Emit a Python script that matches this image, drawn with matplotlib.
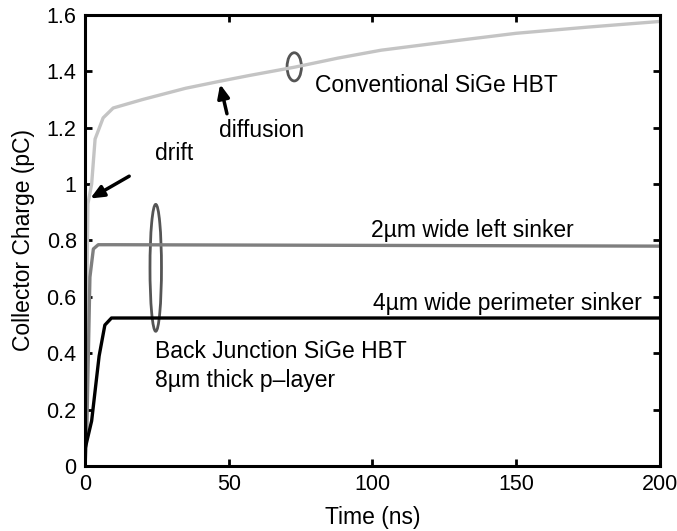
""" Collector charge vs time for conventional and back-junction SiGe HBT """

import numpy as np
import matplotlib.pyplot as plt
from matplotlib.patches import Ellipse

plt.rcParams['font.family'] = ['Liberation Sans', 'DejaVu Sans']

# Conventional SiGe HBT (light gray)
t_conv = [0, 0.5, 1, 2.3, 3.5, 6.3, 9.8, 20, 35, 47, 57, 73, 88, 103, 130, 150, 175, 200]
q_conv = [0, 0.5, 0.93, 1.0, 1.16, 1.235, 1.27, 1.30, 1.34, 1.365, 1.385, 1.415, 1.447, 1.475, 1.51, 1.535, 1.557, 1.577]

# 2um wide left sinker (mid gray)
t_left = [0, 0.6, 1.7, 2.9, 4.6, 10, 200]
q_left = [0, 0.12, 0.67, 0.77, 0.785, 0.785, 0.78]

# 4um wide perimeter sinker (black)
t_perim = [0, 2.3, 4.9, 6.9, 9.2, 200]
q_perim = [0.06, 0.16, 0.39, 0.50, 0.525, 0.525]

fig = plt.figure(figsize=(6.77, 5.31), dpi=100)
ax = fig.add_axes([0.1256, 0.1224, 0.849, 0.8494])

ax.plot(t_conv, q_conv, color='#c4c4c4', lw=2.4)
ax.plot(t_left, q_left, color='#7f7f7f', lw=2.4)
ax.plot(t_perim, q_perim, color='black', lw=2.4)

# ellipses grouping curves
ax.add_patch(Ellipse((72.8, 1.416), 5.0, 0.10, fill=False, ec='#555555', lw=2))
ax.add_patch(Ellipse((24.6, 0.703), 4.0, 0.45, fill=False, ec='#555555', lw=2))

fs = 16.5
ax.text(80, 1.35, 'Conventional SiGe HBT', fontsize=fs, va='center')
ax.text(46.5, 1.19, 'diffusion', fontsize=fs, va='center')
ax.text(24.5, 1.11, 'drift', fontsize=fs, va='center')
ax.text(99.5, 0.837, '2\u00b5m wide left sinker', fontsize=fs, va='center')
ax.text(100.2, 0.578, '4\u00b5m wide perimeter sinker', fontsize=fs, va='center')
ax.text(24.3, 0.405, 'Back Junction SiGe HBT', fontsize=fs, va='center')
ax.text(24.3, 0.305, '8\u00b5m thick p\u2013layer', fontsize=fs, va='center')

arrow = dict(arrowstyle='-|>,head_length=0.8,head_width=0.35', color='black', lw=2.5)
ax.annotate('', xy=(1.0, 0.944), xytext=(16.2, 1.033), arrowprops=arrow)
ax.annotate('', xy=(46.8, 1.364), xytext=(49.6, 1.24), arrowprops=arrow)

ax.set_xlim(0, 200)
ax.set_ylim(0, 1.6)
ax.set_xticks([0, 50, 100, 150, 200])
ax.set_yticks([0, 0.2, 0.4, 0.6, 0.8, 1, 1.2, 1.4, 1.6])
ax.set_yticklabels(['0', '0.2', '0.4', '0.6', '0.8', '1', '1.2', '1.4', '1.6'])
ax.tick_params(direction='in', length=5, width=2, labelsize=15.5, top=True, right=True, pad=6)
for s in ax.spines.values():
    s.set_linewidth(2.2)
ax.set_xlabel('Time (ns)', fontsize=fs, labelpad=8)
ax.set_ylabel('Collector Charge (pC)', fontsize=fs, labelpad=8)

fig.savefig('out.png')
